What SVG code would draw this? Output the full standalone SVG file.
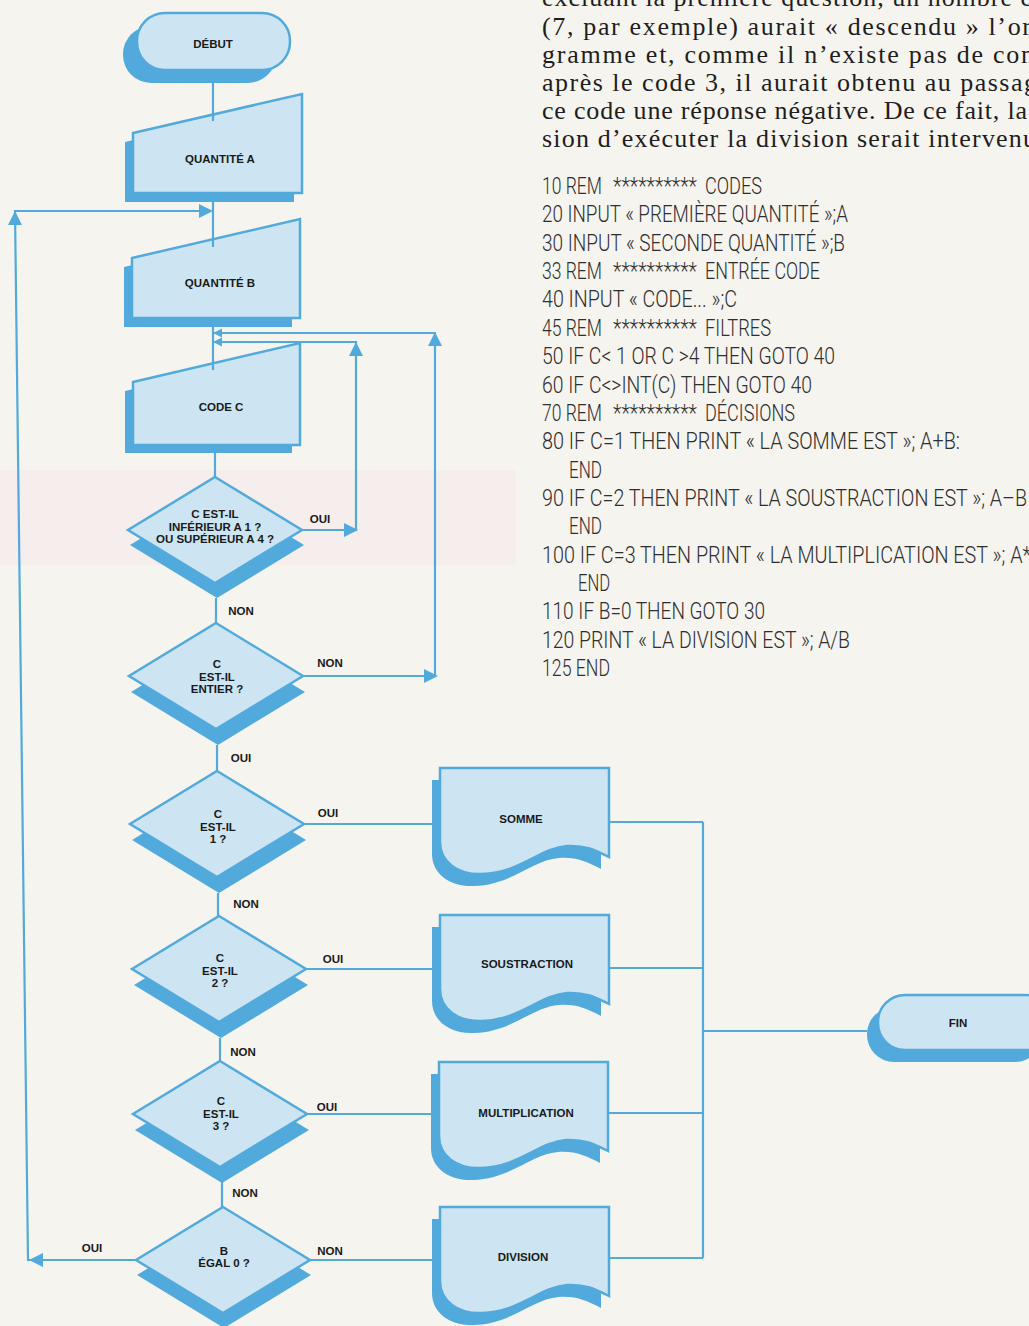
<svg xmlns="http://www.w3.org/2000/svg" xmlns:xlink="http://www.w3.org/1999/xlink" width="1029" height="1326" viewBox="0 0 1029 1326">
<style>
.ln{stroke:#52aadc;stroke-width:2.2;fill:none}
.sh{fill:#52aadc}
.nd{fill:#cde5f3;stroke:#52aadc;stroke-width:2.5}
.ah{fill:#52aadc}
.lb{font-family:"Liberation Sans",Arial,sans-serif;font-weight:bold;font-size:11.5px;fill:#1a1a1a;text-anchor:middle}
.nt{font-family:"Liberation Sans",Arial,sans-serif;font-weight:bold;font-size:11.5px;fill:#1a1a1a;text-anchor:middle}
.code{font-family:Roboto,"Liberation Sans",sans-serif;font-weight:300;font-size:24px;fill:#2e2e2e}
.ser{font-family:"Liberation Serif","Times New Roman",serif;font-size:26px;fill:#1e1e1e}
</style>
<defs>
<path id="doc" d="M0,0 H169 V89 C155,82 145,77 127,78 C100,80 80,105 42,106 C18,107 0,94 0,74 Z"/>
<path id="arr" d="M0,0 L-14,-7 L-14,7 Z"/>
<path id="arrs" d="M0,0 L-9,-4.5 L-9,4.5 Z"/>
<polygon id="dia" points="0,-53 87,0 0,53 -87,0"/>
</defs>
<rect x="0" y="0" width="1029" height="1326" fill="#f6f4ef"/>
<rect x="0" y="470" width="516" height="95" fill="#f6eded"/>

<!-- right-hand text -->
<g id="paragraph">
<text class="ser" x="542" y="6" textLength="490" lengthAdjust="spacing">excluant la première question, un nombre e</text>
<text class="ser" x="542" y="35" textLength="489" lengthAdjust="spacing">(7, par exemple) aurait « descendu » l’or</text>
<text class="ser" x="542" y="63" textLength="492" lengthAdjust="spacing">gramme et, comme il n’existe pas de con</text>
<text class="ser" x="542" y="91" textLength="495" lengthAdjust="spacing">après le code 3, il aurait obtenu au passag</text>
<text class="ser" x="542" y="119" textLength="485" lengthAdjust="spacing">ce code une réponse négative. De ce fait, la</text>
<text class="ser" x="542" y="147" textLength="494" lengthAdjust="spacing">sion d’exécuter la division serait intervenu</text>
</g>
<g id="listing">
<text class="code" x="542" y="194" textLength="60" lengthAdjust="spacingAndGlyphs">10 REM</text>
<text class="code" x="613" y="194" textLength="84" lengthAdjust="spacingAndGlyphs">**********</text>
<text class="code" x="705" y="194" textLength="57" lengthAdjust="spacingAndGlyphs">CODES</text>
<text class="code" x="542" y="222" textLength="306" lengthAdjust="spacingAndGlyphs">20 INPUT « PREMIÈRE QUANTITÉ »;A</text>
<text class="code" x="542" y="251" textLength="303" lengthAdjust="spacingAndGlyphs">30 INPUT « SECONDE QUANTITÉ »;B</text>
<text class="code" x="542" y="279" textLength="60" lengthAdjust="spacingAndGlyphs">33 REM</text>
<text class="code" x="613" y="279" textLength="84" lengthAdjust="spacingAndGlyphs">**********</text>
<text class="code" x="705" y="279" textLength="115" lengthAdjust="spacingAndGlyphs">ENTRÉE CODE</text>
<text class="code" x="542" y="307" textLength="195" lengthAdjust="spacingAndGlyphs">40 INPUT « CODE... »;C</text>
<text class="code" x="542" y="336" textLength="60" lengthAdjust="spacingAndGlyphs">45 REM</text>
<text class="code" x="613" y="336" textLength="84" lengthAdjust="spacingAndGlyphs">**********</text>
<text class="code" x="705" y="336" textLength="66" lengthAdjust="spacingAndGlyphs">FILTRES</text>
<text class="code" x="542" y="364" textLength="293" lengthAdjust="spacingAndGlyphs">50 IF C&lt; 1 OR C &gt;4 THEN GOTO 40</text>
<text class="code" x="542" y="393" textLength="270" lengthAdjust="spacingAndGlyphs">60 IF C&lt;&gt;INT(C) THEN GOTO 40</text>
<text class="code" x="542" y="421" textLength="60" lengthAdjust="spacingAndGlyphs">70 REM</text>
<text class="code" x="613" y="421" textLength="84" lengthAdjust="spacingAndGlyphs">**********</text>
<text class="code" x="705" y="421" textLength="90" lengthAdjust="spacingAndGlyphs">DÉCISIONS</text>
<text class="code" x="542" y="449" textLength="418" lengthAdjust="spacingAndGlyphs">80 IF C=1 THEN PRINT « LA SOMME EST »; A+B:</text>
<text class="code" x="569" y="478" textLength="33" lengthAdjust="spacingAndGlyphs">END</text>
<text class="code" x="542" y="506" textLength="485" lengthAdjust="spacingAndGlyphs">90 IF C=2 THEN PRINT « LA SOUSTRACTION EST »; A–B</text>
<text class="code" x="569" y="534" textLength="33" lengthAdjust="spacingAndGlyphs">END</text>
<text class="code" x="542" y="563" textLength="501" lengthAdjust="spacingAndGlyphs">100 IF C=3 THEN PRINT « LA MULTIPLICATION EST »; A*B</text>
<text class="code" x="578" y="591" textLength="32" lengthAdjust="spacingAndGlyphs">END</text>
<text class="code" x="542" y="619" textLength="223" lengthAdjust="spacingAndGlyphs">110 IF B=0 THEN GOTO 30</text>
<text class="code" x="542" y="648" textLength="308" lengthAdjust="spacingAndGlyphs">120 PRINT « LA DIVISION EST »; A/B</text>
<text class="code" x="542" y="676" textLength="68" lengthAdjust="spacingAndGlyphs">125 END</text>
</g>

<!-- nodes -->
<g id="debut">
<rect class="sh" x="123" y="26" width="153" height="57" rx="28"/>
<rect class="nd" x="137" y="13" width="153" height="57" rx="28"/>
<text class="nt" x="213" y="48">DÉBUT</text>
</g>
<g id="quantite-a">
<polygon class="sh" points="125,142 294,103 294,202 125,202"/>
<polygon class="nd" points="133,133 302,94 302,193 133,193"/>
<text class="nt" x="220" y="163">QUANTITÉ A</text>
</g>
<g id="quantite-b">
<polygon class="sh" points="124,267 292,228 292,327 124,327"/>
<polygon class="nd" points="132,258 300,219 300,318 132,318"/>
<text class="nt" x="220" y="287">QUANTITÉ B</text>
</g>
<g id="code-c">
<polygon class="sh" points="125,391 292,352 292,453 125,453"/>
<polygon class="nd" points="133,382 300,343 300,445 133,445"/>
<text class="nt" x="221" y="411">CODE C</text>
</g>
<g id="d1">
<use href="#dia" class="sh" transform="translate(217,545)"/>
<use href="#dia" class="nd" transform="translate(215,530)"/>
<text class="nt" x="215" y="518">C EST-IL</text>
<text class="nt" x="215" y="531">INFÉRIEUR A 1 ?</text>
<text class="nt" x="215" y="543">OU SUPÉRIEUR A 4 ?</text>
</g>
<g id="d2">
<use href="#dia" class="sh" transform="translate(218,692)"/>
<use href="#dia" class="nd" transform="translate(216,676)"/>
<text class="nt" x="217" y="668">C</text>
<text class="nt" x="217" y="681">EST-IL</text>
<text class="nt" x="217" y="693">ENTIER ?</text>
</g>
<g id="d3">
<use href="#dia" class="sh" transform="translate(219,840)"/>
<use href="#dia" class="nd" transform="translate(217,824)"/>
<text class="nt" x="218" y="818">C</text>
<text class="nt" x="218" y="831">EST-IL</text>
<text class="nt" x="218" y="843">1 ?</text>
</g>
<g id="d4">
<use href="#dia" class="sh" transform="translate(221,985)"/>
<use href="#dia" class="nd" transform="translate(219,969)"/>
<text class="nt" x="220" y="962">C</text>
<text class="nt" x="220" y="975">EST-IL</text>
<text class="nt" x="220" y="987">2 ?</text>
</g>
<g id="d5">
<use href="#dia" class="sh" transform="translate(222,1130)"/>
<use href="#dia" class="nd" transform="translate(220,1114)"/>
<text class="nt" x="221" y="1105">C</text>
<text class="nt" x="221" y="1118">EST-IL</text>
<text class="nt" x="221" y="1130">3 ?</text>
</g>
<g id="d6">
<use href="#dia" class="sh" transform="translate(224,1275)"/>
<use href="#dia" class="nd" transform="translate(223,1260)"/>
<text class="nt" x="224" y="1255">B</text>
<text class="nt" x="224" y="1267">ÉGAL 0 ?</text>
</g>
<g id="somme">
<use href="#doc" class="sh" transform="translate(432,780)"/>
<use href="#doc" class="nd" transform="translate(440,768)"/>
<text class="nt" x="521" y="823">SOMME</text>
</g>
<g id="soustraction">
<use href="#doc" class="sh" transform="translate(432,927)"/>
<use href="#doc" class="nd" transform="translate(440,915)"/>
<text class="nt" x="527" y="968">SOUSTRACTION</text>
</g>
<g id="multiplication">
<use href="#doc" class="sh" transform="translate(431,1074)"/>
<use href="#doc" class="nd" transform="translate(439,1062)"/>
<text class="nt" x="526" y="1117">MULTIPLICATION</text>
</g>
<g id="division">
<use href="#doc" class="sh" transform="translate(432,1219)"/>
<use href="#doc" class="nd" transform="translate(440,1207)"/>
<text class="nt" x="523" y="1261">DIVISION</text>
</g>
<g id="fin">
<rect class="sh" x="867" y="1007" width="175" height="55" rx="27"/>
<rect class="nd" x="878" y="995" width="175" height="55" rx="27"/>
<text class="nt" x="958" y="1027">FIN</text>
</g>

<!-- connectors -->
<g id="connectors">
<path class="ln" d="M213,70 V121"/>
<path class="ln" d="M213,193 V247"/>
<path class="ln" d="M213,318 V370"/>
<path class="ln" d="M137,1260 H28 L15,211 H206"/>
<path class="ln" d="M215,445 V477"/>
<path class="ln" d="M302,530 H356 V342 H214"/>
<path class="ln" d="M303,676 H435 V333 H214"/>
<path class="ln" d="M216,598 V623"/>
<path class="ln" d="M217,745 V771"/>
<path class="ln" d="M218,893 V916"/>
<path class="ln" d="M220,1038 V1061"/>
<path class="ln" d="M222,1182 V1207"/>
<path class="ln" d="M304,824 H432"/>
<path class="ln" d="M306,969 H432"/>
<path class="ln" d="M307,1114 H431"/>
<path class="ln" d="M310,1260 H432"/>
<path class="ln" d="M609,822 H703 M609,968 H703 M609,1113 H703 M609,1258 H703 M703,822 V1258 M703,1031 H867"/>
<use href="#arr" class="ah" transform="translate(213,211)"/>
<use href="#arr" class="ah" transform="translate(15,211) rotate(-90)"/>
<use href="#arr" class="ah" transform="translate(435,332) rotate(-90)"/>
<use href="#arr" class="ah" transform="translate(356,342) rotate(-90)"/>
<use href="#arrs" class="ah" transform="translate(213,333) rotate(180)"/>
<use href="#arrs" class="ah" transform="translate(213,342) rotate(180)"/>
<use href="#arr" class="ah" transform="translate(358,530)"/>
<use href="#arr" class="ah" transform="translate(438,676)"/>
<use href="#arr" class="ah" transform="translate(29,1260) rotate(180)"/>
<text class="lb" x="241" y="615">NON</text>
<text class="lb" x="320" y="523">OUI</text>
<text class="lb" x="330" y="667">NON</text>
<text class="lb" x="241" y="762">OUI</text>
<text class="lb" x="328" y="817">OUI</text>
<text class="lb" x="246" y="908">NON</text>
<text class="lb" x="333" y="963">OUI</text>
<text class="lb" x="243" y="1056">NON</text>
<text class="lb" x="327" y="1111">OUI</text>
<text class="lb" x="245" y="1197">NON</text>
<text class="lb" x="92" y="1252">OUI</text>
<text class="lb" x="330" y="1255">NON</text>
</g>
</svg>
